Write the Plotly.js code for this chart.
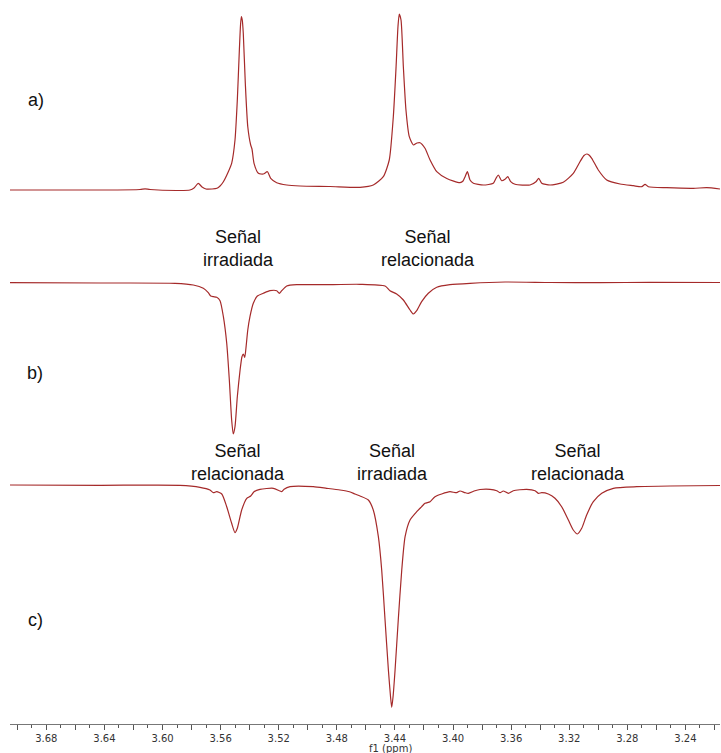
<!DOCTYPE html>
<html>
<head>
<meta charset="utf-8">
<script src="https://cdn.plot.ly/plotly-3.0.1.min.js"></script>
<style>html,body{margin:0;padding:0;background:#fff;}#chart{width:721px;height:753px;}</style>
</head>
<body>
<div id="chart"></div>
<script>
// ---- data (chemical shift in ppm, intensity in arbitrary units) ----
const aPpm = [3.705,3.6706,3.643,3.6155,3.612,3.6086,3.588,3.5811,3.5783,3.5754,3.5728,3.5701,3.5659,3.5625,3.5604,3.5581,3.5547,3.5524,3.5501,3.5485,3.5471,3.5463,3.5457,3.5451,3.5444,3.5430,3.5413,3.5393,3.5384,3.5370,3.5340,3.5306,3.5278,3.5255,3.5214,3.5145,3.5053,3.4847,3.4640,3.4549,3.4480,3.4439,3.4411,3.4392,3.4379,3.4370,3.4358,3.4342,3.4324,3.4301,3.4273,3.4248,3.4227,3.4193,3.4158,3.4112,3.4043,3.3952,3.3931,3.3917,3.3901,3.3883,3.3860,3.3791,3.3723,3.3704,3.3688,3.3665,3.3642,3.3623,3.3603,3.3573,3.3470,3.3429,3.3410,3.3389,3.3332,3.3241,3.3172,3.3126,3.3098,3.3079,3.3064,3.3045,3.3000,3.2942,3.2850,3.2759,3.2701,3.2678,3.2655,3.2529,3.2346,3.2253,3.2162];
const aInt = [-2,-2,-2,-1.5,-0.8,-1.5,-2.5,-2,0,4.7,1,-1,-1,-0.3,2,6.3,16.3,24.7,48,88,138,163,171.3,168,154.7,104.7,61.3,43,39,24.7,14.7,14,16.3,9.7,5.3,3,2,1.5,0.7,3,11.3,28,71.3,121.3,161.3,174,168,121.3,78,51.3,43,45,45.3,39.7,28,16.3,9.5,5.3,7,11.3,16.3,8,4.7,3,4.7,9.7,13,7.3,8.7,11.3,6.3,3.7,3,6.3,9.7,4.7,3,5.7,14.7,26.3,32.5,34,33,29.7,18,8,4,2.3,1.3,3.7,1.3,0.3,-0.3,0.3,-1];

const bPpm = [3.705,3.643,3.5914,3.5788,3.5719,3.5685,3.5668,3.5650,3.5627,3.5604,3.5581,3.5558,3.5540,3.5524,3.5513,3.5501,3.5485,3.5466,3.5453,3.5444,3.5434,3.5427,3.5413,3.5398,3.5375,3.5347,3.5306,3.5260,3.5214,3.5196,3.5179,3.5145,3.5076,3.4902,3.4640,3.4468,3.4434,3.4388,3.4342,3.4296,3.4273,3.4250,3.4216,3.4170,3.4112,3.4021,3.3883,3.3642,3.3332,3.2988,3.2644,3.2162];
const bInt = [0.3,0,-0.3,-2,-5.3,-9.7,-13,-13.7,-14.3,-17.7,-33.7,-60.3,-97,-137,-151,-143.7,-113.7,-87,-73.7,-71,-74.3,-67,-47,-33.7,-20.3,-13,-10.3,-7.7,-7.7,-10.3,-7.7,-3,-1.7,-1.7,-1.3,-3,-7.7,-11,-17,-27,-31,-27.7,-18.7,-10.3,-4.3,-1.7,-0.3,1,0.5,0.3,0.7,0.5];

const cPpm = [3.705,3.643,3.5880,3.5742,3.5673,3.5650,3.5627,3.5592,3.5558,3.5524,3.5501,3.5485,3.5455,3.5420,3.5393,3.5370,3.5329,3.5237,3.5196,3.5179,3.5163,3.5122,3.4962,3.4870,3.4778,3.4713,3.4675,3.4640,3.4583,3.4549,3.4514,3.4491,3.4468,3.4445,3.4430,3.4422,3.4413,3.4399,3.4377,3.4353,3.4330,3.4296,3.4250,3.4216,3.4193,3.4158,3.4124,3.4078,3.4021,3.3975,3.3952,3.3917,3.3895,3.3849,3.3814,3.3745,3.3699,3.3676,3.3654,3.3619,3.3585,3.3493,3.3435,3.3413,3.3389,3.3344,3.3298,3.3252,3.3206,3.3172,3.3144,3.3114,3.3080,3.3034,3.2976,3.2896,3.2735,3.2506,3.2162];
const cInt = [1,0.7,0.7,-1.3,-4,-6.7,-5.7,-8,-20.7,-37.3,-46.7,-42.3,-24,-12.3,-10,-5.7,-3.3,-2.3,-4.7,-5.7,-3.3,-0.7,-0.7,-2.3,-4,-5.7,-8,-10,-14,-24,-50.7,-84,-134,-184,-211,-221.3,-211,-184,-134,-84,-50.7,-34,-25.7,-20.7,-17.3,-15.7,-10.7,-8,-5.7,-6.7,-5,-6.7,-7.3,-4.7,-3.5,-3.3,-4.7,-6.7,-5,-7.3,-4.7,-3.3,-4.7,-7.3,-6.7,-8,-12.3,-20.7,-34,-44,-48,-42.3,-29,-15.7,-7.3,-2.3,-0.7,0,0.5];

const tickLabels = ['3.68','3.64','3.60','3.56','3.52','3.48','3.44','3.40','3.36','3.32','3.28','3.24'];
const panelLabels = ['a)','b)','c)'];
const signalLabels = ['Señal<br>irradiada','Señal<br>relacionada','Señal<br>relacionada','Señal<br>irradiada','Señal<br>relacionada'];

// ---- layout helpers ----
const W = 721, H = 753, ML = 10, MR = 1, MT = 0, MB = 29;
const PW = W - ML - MR, PH = H - MT - MB;
const px = x => (x - ML) / PW;
const py = y => 1 - (y - MT) / PH;

const lineColor = '#a52a2a';
const mk = (x, y, ax) => ({x, y, yaxis: ax, type: 'scatter', mode: 'lines',
  line: {color: lineColor, width: 1.2, shape: 'spline', smoothing: 0.6}, hoverinfo: 'skip'});

const traces = [mk(aPpm, aInt, 'y'), mk(bPpm, bInt, 'y2'), mk(cPpm, cInt, 'y3')];

// major tick every 0.02 ppm, label every 0.04 ppm
const tickVals = [], tickText = [];
for (let i = 0; i <= 24; i++) {
  const v = +(3.70 - i * 0.02).toFixed(2);
  tickVals.push(v);
  const s = v.toFixed(2);
  tickText.push(tickLabels.includes(s) ? s : '');
}

const txtFont = {family: 'Liberation Sans, Arial, sans-serif', size: 18, color: '#111'};
const ann = (text, x, y) => ({text, x: px(x), y: py(y), xref: 'paper', yref: 'paper',
  showarrow: false, xanchor: 'center', yanchor: 'middle', font: txtFont, align: 'center'});

const annotations = [
  ann(panelLabels[0], 36, 100),
  ann(panelLabels[1], 35, 373),
  ann(panelLabels[2], 35, 620),
  ann(signalLabels[0], 238, 248),
  ann(signalLabels[1], 428, 248),
  ann(signalLabels[2], 238, 462),
  ann(signalLabels[3], 393, 462),
  ann(signalLabels[4], 578, 462),
  {text: 'f1 (ppm)', x: px(367), y: 0, xref: 'paper', yref: 'paper', yshift: -24,
   xanchor: 'left', yanchor: 'middle', showarrow: false,
   font: {family: 'DejaVu Sans, Verdana, sans-serif', size: 10, color: '#333'}}
];

const hiddenY = (domain, range) => ({domain, range, visible: false, fixedrange: true});

const layout = {
  width: W, height: H,
  margin: {l: ML, r: MR, t: MT, b: MB},
  paper_bgcolor: '#fff', plot_bgcolor: '#fff',
  showlegend: false,
  xaxis: {
    anchor: 'free', position: 0,
    range: [3.705, 3.2162], showgrid: false, zeroline: false,
    showline: true, linecolor: '#777', linewidth: 1,
    ticks: 'outside', ticklen: 5, tickcolor: '#555', tickwidth: 1,
    tickmode: 'array', tickvals: tickVals, ticktext: tickText,
    tickfont: {family: 'DejaVu Sans, Verdana, sans-serif', size: 10, color: '#333'},
    minor: {ticks: 'outside', ticklen: 3, tickcolor: '#555', dtick: 0.01, tick0: 0, showgrid: false}
  },
  yaxis: hiddenY([py(200), 1], [-12, 188]),
  yaxis2: hiddenY([py(450), py(250)], [-167, 33]),
  yaxis3: hiddenY([0, py(460)], [-238, 26]),
  annotations
};

Plotly.newPlot('chart', traces, layout, {displayModeBar: false, staticPlot: true});
</script>
</body>
</html>
